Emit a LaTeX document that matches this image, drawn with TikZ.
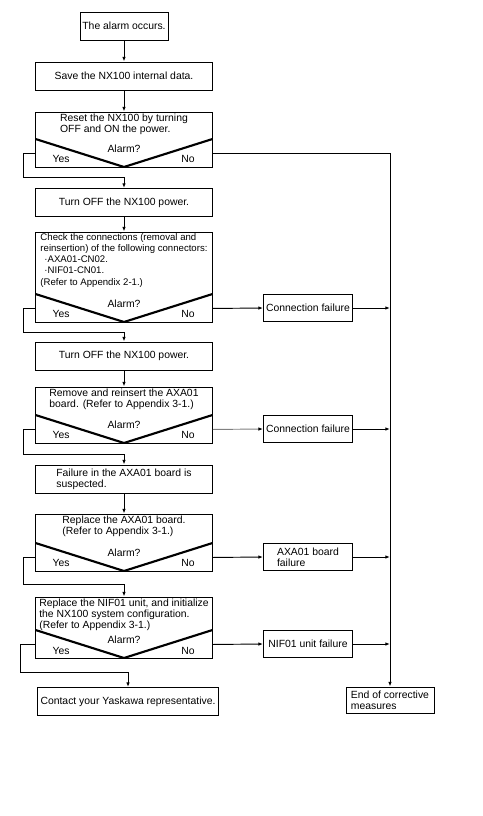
\documentclass[tikz,border=0pt]{standalone}
\usepackage{fontspec}
\setmainfont{Liberation Sans}
\usetikzlibrary{arrows.meta, positioning, calc}

\begin{document}
\begin{tikzpicture}[x=0.75pt, y=-0.75pt,
    txt/.style={font=\fontsize{7.8}{8.4}\selectfont},
    box/.style={draw, line width=0.7pt, txt, minimum height=21pt, inner sep=1pt},
    mainbox/.style={box, minimum width=132.75pt},
    sidebox/.style={box, minimum width=66.75pt, minimum height=20.25pt, align=left},
    decbox/.style={draw, line width=0.7pt, minimum width=132.75pt, minimum height=#1, inner sep=0pt,
        path picture={\draw[line width=1.6pt] ([yshift=21pt]path picture bounding box.south west)
            -- (path picture bounding box.south) -- ([yshift=21pt]path picture bounding box.south east);}},
    dectext/.style={txt, anchor=north, align=left, inner sep=1.5pt},
    lbl/.style={txt, inner sep=0pt},
    arr/.style={line width=0.7pt, -{Latex[length=3.5pt, width=2.6pt]}}]
    \useasboundingbox (0,0) rectangle (482,816);

    % main column
    \node[box, minimum width=66pt] (a) at (124, 26) {The alarm occurs.};
    \node[mainbox] (b) at (124, 76) {Save the NX100 internal data.};
    \node[decbox=41.25pt] (c) at (124, 139.5) {};
    \node[dectext] (ct) at (c.north) {Reset the NX100 by turning\\OFF and ON the power.};
    \node[mainbox] (d) at (124, 202.5) {Turn OFF the NX100 power.};
    \node[decbox=67.5pt] (e) at (124, 277) {};
    \node[dectext, font=\fontsize{7.2}{8.3}\selectfont] (et) at (e.north) {Check the connections (removal and\\reinsertion) of the following connectors:\\
        \hspace*{3pt}·AXA01-CN02.\\\hspace*{3pt}·NIF01-CN01.\\(Refer to Appendix 2-1.)};
    \node[mainbox] (f) at (124, 356) {Turn OFF the NX100 power.};
    \node[decbox=42pt] (g) at (124, 415) {};
    \node[dectext] (gt) at (g.north) {Remove and reinsert the AXA01\\board. (Refer to Appendix 3-1.)};
    \node[mainbox, align=left] (h) at (124, 479) {Failure in the AXA01 board is\\suspected.};
    \node[decbox=42.75pt] (i) at (124, 542.5) {};
    \node[dectext] (it) at (i.north) {Replace the AXA01 board.\\(Refer to Appendix 3-1.)};
    \node[decbox=45.75pt] (j) at (124, 627.5) {};
    \node[dectext] (jt) at (j.north) {Replace the NIF01 unit, and initialize\\the NX100 system configuration.\\(Refer to Appendix 3-1.)};
    \node[box, minimum width=135.75pt] (k) at (128, 701.5) {Contact your Yaskawa representative.};

    % decision labels
    \node[lbl] (cq) at ([yshift=14.25pt]c.south) {Alarm?};
    \node[lbl] (cy) at ([xshift=19.5pt, yshift=6pt]c.south west) {Yes};
    \node[lbl] (cn) at ([xshift=-18.75pt, yshift=6pt]c.south east) {No};
    \node[lbl] (eq) at ([yshift=14.25pt]e.south) {Alarm?};
    \node[lbl] (ey) at ([xshift=19.5pt, yshift=6pt]e.south west) {Yes};
    \node[lbl] (en) at ([xshift=-18.75pt, yshift=6pt]e.south east) {No};
    \node[lbl] (gq) at ([yshift=14.25pt]g.south) {Alarm?};
    \node[lbl] (gy) at ([xshift=19.5pt, yshift=6pt]g.south west) {Yes};
    \node[lbl] (gn) at ([xshift=-18.75pt, yshift=6pt]g.south east) {No};
    \node[lbl] (iq) at ([yshift=14.25pt]i.south) {Alarm?};
    \node[lbl] (iy) at ([xshift=19.5pt, yshift=6pt]i.south west) {Yes};
    \node[lbl] (in) at ([xshift=-18.75pt, yshift=6pt]i.south east) {No};
    \node[lbl] (jq) at ([yshift=14.25pt]j.south) {Alarm?};
    \node[lbl] (jy) at ([xshift=19.5pt, yshift=6pt]j.south west) {Yes};
    \node[lbl] (jn) at ([xshift=-18.75pt, yshift=6pt]j.south east) {No};

    % failure column
    \node[sidebox] (cf1) at (308, 308) {Connection failure};
    \node[sidebox] (cf2) at (308, 429) {Connection failure};
    \node[sidebox] (axa) at (308, 557) {AXA01 board\\failure};
    \node[sidebox] (nif) at (308, 644) {NIF01 unit failure};
    \node[box, minimum width=66pt, minimum height=19.5pt, align=left] (endb) at (390, 700) {End of corrective\\measures};

    % straight arrows
    \draw[arr] (a) -- (b);
    \draw[arr] (b) -- (c);
    \draw[arr] (d) -- (e);
    \draw[arr] (f) -- (g);
    \draw[arr] (h) -- (i);

    % Yes branches
    \draw[arr] ([yshift=10.5pt]c.south west) -- ++(-9pt,0) |- ($(c.south)!.5!(d.north)$) -| (d.north);
    \draw[arr] ([yshift=10.5pt]e.south west) -- ++(-9pt,0) |- ($(e.south)!.5!(f.north)$) -| (f.north);
    \draw[arr] ([yshift=10.5pt]g.south west) -- ++(-9pt,0) |- ($(g.south)!.5!(h.north)$) -| (h.north);
    \draw[arr] ([yshift=10.5pt]i.south west) -- ++(-9pt,0) |- ($(i.south)!.5!(j.north)$) -| (j.north);
    \draw[arr] ([yshift=10.5pt]j.south west) -- ++(-11pt,0) |- ($(j.south)!.5!(k.north)$) -| (k.north);

    % No branches
    \draw[arr] ([yshift=10.5pt]c.south east) -| (endb.north);
    \draw[arr] ([yshift=10.5pt]e.south east) -- (cf1.west);
    \draw[arr, gray, -{Latex[length=3.5pt, width=2.6pt, black]}] ([yshift=10.5pt]g.south east) -- (cf2.west);
    \draw[arr] ([yshift=10.5pt]i.south east) -- (axa.west);
    \draw[arr] ([yshift=10.5pt]j.south east) -- (nif.west);
    \draw[arr] (cf1.east) -- (cf1.east -| endb.north);
    \draw[arr] (cf2.east) -- (cf2.east -| endb.north);
    \draw[arr] (axa.east) -- (axa.east -| endb.north);
    \draw[arr] (nif.east) -- (nif.east -| endb.north);
\end{tikzpicture}
\end{document}
